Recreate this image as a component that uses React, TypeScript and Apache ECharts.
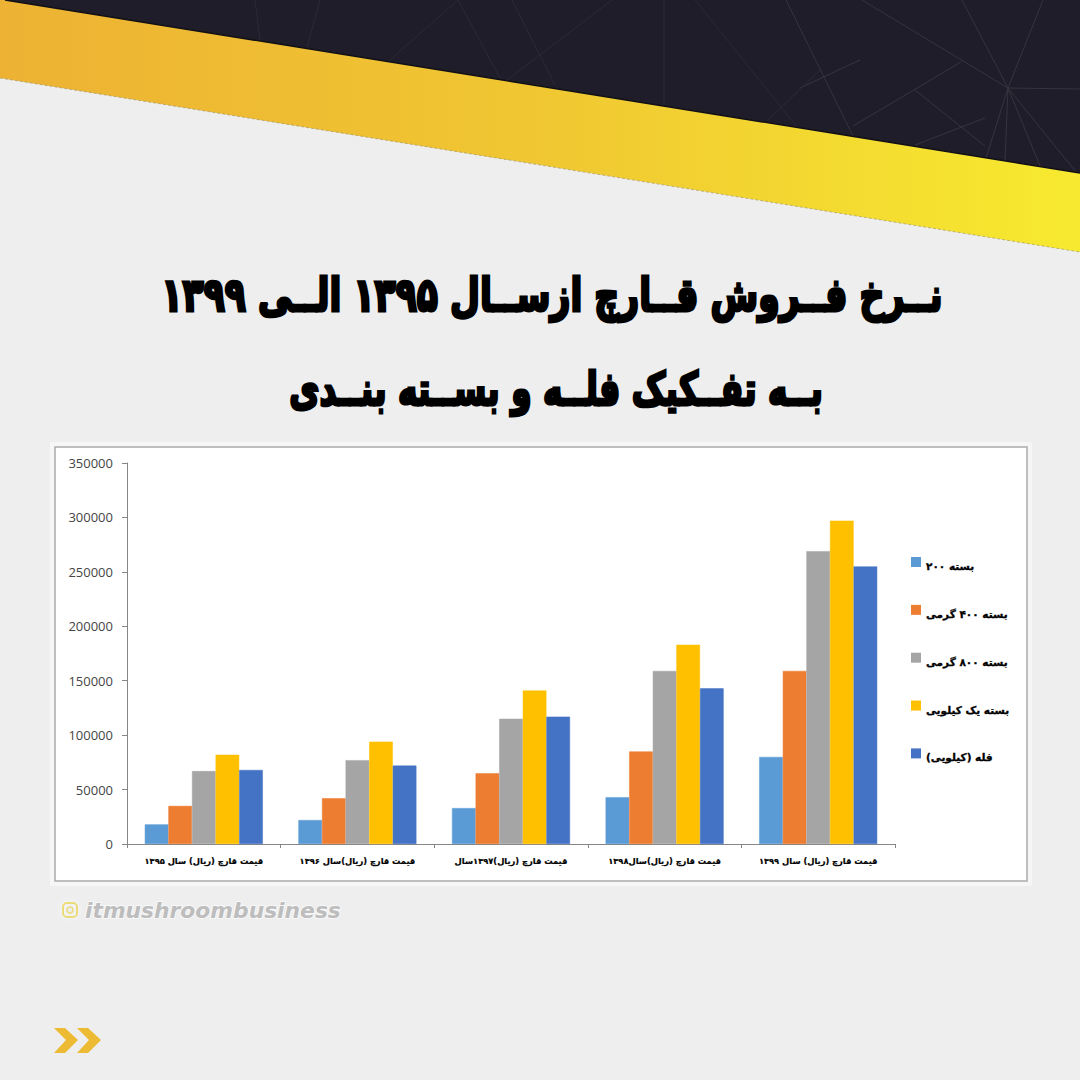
import React, { useEffect, useRef } from "react";
import * as echarts from "echarts";

const categories = [
  "قیمت قارچ (ریال) سال ۱۳۹۵",
  "قیمت قارچ (ریال)سال ۱۳۹۶",
  "قیمت قارچ (ریال)۱۳۹۷سال",
  "قیمت قارچ (ریال)سال۱۳۹۸",
  "قیمت قارچ (ریال) سال ۱۳۹۹",
];
const seriesNames = ["بسته ۲۰۰", "بسته ۴۰۰ گرمی", "بسته ۸۰۰ گرمی", "بسته یک کیلویی", "فله (کیلویی)"];
const pack200 = [18000, 22000, 33000, 43000, 80000];
const pack400 = [35000, 42000, 65000, 85000, 159000];
const pack800 = [67000, 77000, 115000, 159000, 269000];
const pack1kg = [82000, 94000, 141000, 183000, 297000];
const bulk = [68000, 72000, 117000, 143000, 255000];
const seriesValues = [pack200, pack400, pack800, pack1kg, bulk];
const seriesColors = ["#5B9BD5", "#ED7D31", "#A5A5A5", "#FFC000", "#4472C4"];
const titleLine1 = "نــرخ فــروش قــارچ ازســال ۱۳۹۵ الــی ۱۳۹۹";
const titleLine2 = "بــه تفــکیک فلــه و بســته بنــدی";
const watermark = "itmushroombusiness";

const webLines = [
  [1008, 88, 1043, 0], [1008, 88, 962, 0], [1008, 88, 862, 0], [1008, 88, 1080, 89],
  [1008, 88, 986, 158], [1008, 88, 1005, 161], [1008, 88, 1040, 166], [1008, 88, 1076, 172],
  [786, 0, 853, 136], [860, 60, 800, 88], [961, 62, 853, 126], [985, 118, 915, 145],
  [915, 90, 985, 146],
];
const faintLines = [
  [612, 0, 507, 80], [664, 0, 664, 105], [695, 0, 798, 128], [820, 70, 768, 120],
  [512, 0, 555, 85], [320, 0, 305, 55], [458, 0, 390, 60], [458, 0, 500, 78], [255, 0, 260, 40],
];

export default function App() {
  const ref = useRef<HTMLDivElement>(null);
  useEffect(() => {
    document.body.style.margin = "0";
    const chart = echarts.init(ref.current!, null, { renderer: "svg" });
    const yellow = new echarts.graphic.LinearGradient(0, 0, 1, 0, [
      { offset: 0, color: "#EDB233" },
      { offset: 0.5, color: "#F0C732" },
      { offset: 1, color: "#F7EA2F" },
    ]);
    const titleStyle = {
      x: 0, y: 0, textAlign: "center", textVerticalAlign: "middle",
      fontFamily: "DejaVu Sans", fontWeight: "bold", fontSize: 46,
      fill: "#000", stroke: "#000", lineWidth: 3,
    };
    const graphic: any[] = [
      { type: "polygon", z: -5, silent: true, shape: { points: [[5, 0], [1080, 0], [1080, 173]] }, style: { fill: "#1E1D29" } },
      ...webLines.map((l) => ({
        type: "line", z: -4, silent: true,
        shape: { x1: l[0], y1: l[1], x2: l[2], y2: l[3] },
        style: { stroke: "#35343F", lineWidth: 1 },
      })),
      ...faintLines.map((l) => ({
        type: "line", z: -4, silent: true,
        shape: { x1: l[0], y1: l[1], x2: l[2], y2: l[3] },
        style: { stroke: "#2B2A35", lineWidth: 1 },
      })),
      { type: "polygon", z: -3, silent: true, shape: { points: [[0, 0], [5, 0], [1080, 173], [1080, 252], [0, 78]] }, style: { fill: yellow } },
      { type: "line", z: -3, silent: true, shape: { x1: 5, y1: 0, x2: 1080, y2: 173 }, style: { stroke: "#111015", lineWidth: 1.5 } },
      { type: "line", z: -3, silent: true, shape: { x1: 0, y1: 78, x2: 1080, y2: 252 }, style: { stroke: "#9A8F60", lineWidth: 1, lineDash: [3, 2], opacity: 0.6 } },
      { type: "rect", z: -2, silent: true, shape: { x: 50, y: 442, width: 982, height: 444 }, style: { fill: "#FFFFFF", opacity: 0.45 } },
      { type: "rect", z: -2, silent: true, shape: { x: 55, y: 447, width: 972, height: 434 }, style: { fill: "#FFFFFF", stroke: "#ABABAB", lineWidth: 1.5 } },
      { type: "text", z: 5, silent: true, x: 552, y: 295, scaleX: 0.752, scaleY: 1, style: { ...titleStyle, text: titleLine1 } },
      { type: "text", z: 5, silent: true, x: 556, y: 389, scaleX: 0.715, scaleY: 1, style: { ...titleStyle, text: titleLine2 } },
      { type: "rect", z: 5, silent: true, shape: { x: 63, y: 903, width: 14, height: 14, r: 4 }, style: { fill: "none", stroke: "#EBDC78", lineWidth: 2, shadowBlur: 4, shadowColor: "#FFFFFF" } },
      { type: "circle", z: 5, silent: true, shape: { cx: 70, cy: 910, r: 3 }, style: { fill: "none", stroke: "#EBDC78", lineWidth: 1.5 } },
      { type: "text", z: 5, silent: true, style: { x: 85, y: 910, text: watermark, textAlign: "left", textVerticalAlign: "middle", fontFamily: "DejaVu Sans", fontStyle: "italic", fontWeight: "bold", fontSize: 21.8, fill: "#BDBDBD", stroke: "#F8F8F8", lineWidth: 2 } },
      { type: "polygon", z: 5, silent: true, shape: { points: [[54, 1028], [65, 1028], [78, 1040], [65, 1053], [54, 1053], [66, 1040]] }, style: { fill: "#EDBB33" } },
      { type: "polygon", z: 5, silent: true, shape: { points: [[77, 1028], [88, 1028], [101, 1040], [88, 1053], [77, 1053], [89, 1040]] }, style: { fill: "#EDBB33" } },
    ];
    chart.setOption({
      animation: false,
      backgroundColor: "#EEEEEE",
      graphic,
      grid: { left: 127, top: 463, width: 768, height: 381, containLabel: false },
      legend: {
        orient: "vertical",
        left: 911,
        top: 557,
        padding: 0,
        itemWidth: 10,
        itemHeight: 10,
        itemGap: 33.2,
        icon: "rect",
        selectedMode: false,
        data: seriesNames,
        itemStyle: { borderWidth: 0 },
        formatter: (n: string) => `{a|${n}}`,
        textStyle: {
          rich: {
            a: { fontFamily: "DejaVu Sans", fontWeight: "bold", fontSize: 10.5, color: "#000", textBorderColor: "#000", textBorderWidth: 0.3, padding: [8, 0, 0, 0] },
          },
        },
      },
      xAxis: {
        type: "category",
        data: categories,
        axisLine: { lineStyle: { color: "#868686", width: 1 } },
        axisTick: { show: true, length: 4, lineStyle: { color: "#868686" } },
        axisLabel: { fontFamily: "DejaVu Sans", fontWeight: "bold", fontSize: 8.3, color: "#000", textBorderColor: "#000", textBorderWidth: 0.2, margin: 13, interval: 0 },
      },
      yAxis: {
        type: "value",
        min: 0,
        max: 350000,
        interval: 50000,
        splitLine: { show: false },
        axisLine: { show: true, lineStyle: { color: "#868686", width: 1 } },
        axisTick: { show: true, length: 5, lineStyle: { color: "#868686" } },
        axisLabel: { fontFamily: "Open Sans", fontSize: 13, color: "#454545", margin: 14, formatter: (v: number) => String(v) },
      },
      series: seriesNames.map((name, i) => ({
        type: "bar",
        name,
        data: seriesValues[i],
        barWidth: 23.6,
        barGap: 0,
        itemStyle: { color: seriesColors[i], borderColor: seriesColors[i], borderWidth: 0.5 },
      })),
    });
    return () => chart.dispose();
  }, []);
  return <div ref={ref} style={{ width: 1080, height: 1080 }} />;
}
